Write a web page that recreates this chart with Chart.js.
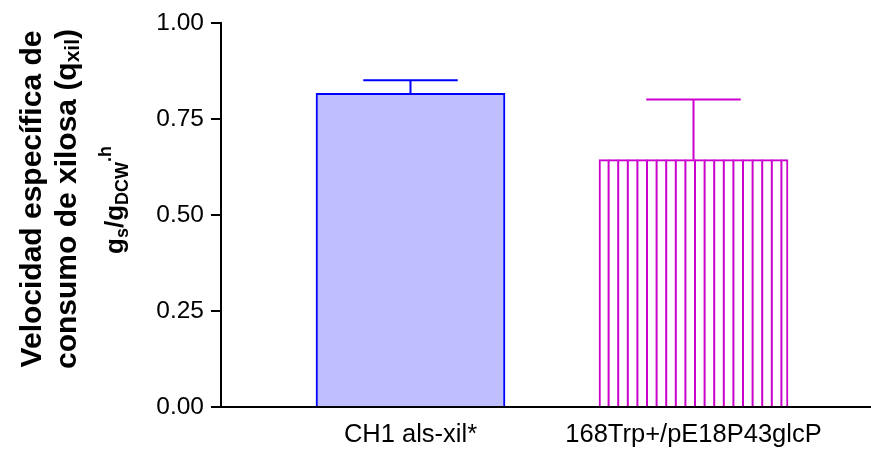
<!DOCTYPE html>
<html>
<head>
<meta charset="utf-8">
<script src="https://cdn.jsdelivr.net/npm/chart.js@4"></script>
<style>
html, body { margin: 0; padding: 0; background: #fff; }
#wrap { width: 871px; height: 450px; }
</style>
</head>
<body>
<div id="wrap"><canvas id="chart"></canvas></div>
<script>
const categories = ['CH1 als-xil*', '168Trp+/pE18P43glcP']
const means = [0.817, 0.644]
const errors = [0.034, 0.157]
const fillColors = ['#bfbfff', '#ffffff']
const lineColors = ['#0000ff', '#cc00cc']

const FONT = "'Liberation Sans', Arial, Helvetica, sans-serif"

// draws rotated text made of pieces: [text, size, shift] (shift > 0 = subscript)
function drawPieces(ctx, pieces, cx, cy, weight) {
    let total = 0
    pieces.forEach(p => {
        ctx.font = `${weight} ${p[1]}px ${FONT}`
        p.w = ctx.measureText(p[0]).width
        total += p.w
    })
    ctx.save()
    ctx.translate(cx, cy)
    ctx.rotate(-Math.PI / 2)
    let x = -total / 2
    ctx.textBaseline = 'alphabetic'
    ctx.textAlign = 'left'
    pieces.forEach(p => {
        ctx.font = `${weight} ${p[1]}px ${FONT}`
        ctx.fillText(p[0], x, p[2])
        x += p.w
    })
    ctx.restore()
}

const extras = {
    id: 'extras',
    afterDatasetsDraw(chart) {
        const ctx = chart.ctx
        const y = chart.scales.y
        const meta = chart.getDatasetMeta(0)
        // vertical hatching of second bar
        const el = meta.data[1]
        const left = el.x - el.width / 2
        const right = el.x + el.width / 2
        ctx.save()
        ctx.strokeStyle = lineColors[1]
        ctx.lineWidth = 2
        for (let sx = left + 9.6; sx < right - 3; sx += 9.6) {
            ctx.beginPath()
            ctx.moveTo(sx, el.y)
            ctx.lineTo(sx, el.base)
            ctx.stroke()
        }
        ctx.restore()

        // error bars (upper only)
        meta.data.forEach((bar, i) => {
            const top = y.getPixelForValue(means[i] + errors[i])
            const half = bar.width / 4
            ctx.save()
            ctx.strokeStyle = lineColors[i]
            ctx.lineWidth = 2
            ctx.beginPath()
            ctx.moveTo(bar.x, bar.y)
            ctx.lineTo(bar.x, top)
            ctx.moveTo(bar.x - half, top)
            ctx.lineTo(bar.x + half, top)
            ctx.stroke()
            ctx.restore()
        })
    },
    afterDraw(chart) {
        const ctx = chart.ctx
        ctx.save()
        ctx.fillStyle = '#000'
        drawPieces(ctx, [['Velocidad específica de', 30, 0]], 41, 199, 'bold')
        drawPieces(ctx, [['consumo de xilosa (q', 30, 0], ['xil', 21, 3], [')', 30, 0]], 76, 199, 'bold')
        drawPieces(ctx, [['g', 26, 0], ['s', 18, 5], ['/g', 26, 0], ['DCW', 18, 5], ['.h', 18, -12]], 123, 200, 'bold')
        ctx.restore()
    }
}

new Chart(document.getElementById('chart'), {
    type: 'bar',
    data: {
        datasets: [{
            data: categories.map((c, i) => ({ x: i + 1, y: means[i] })),
            backgroundColor: fillColors,
            borderColor: lineColors,
            borderWidth: 2,
            barThickness: 189
        }]
    },
    options: {
        responsive: true,
        maintainAspectRatio: false,
        animation: false,
        events: [],
        layout: { padding: { top: 23, right: 0, left: 0, bottom: 0 } },
        plugins: {
            legend: { display: false },
            tooltip: { enabled: false }
        },
        scales: {
            x: {
                type: 'linear',
                offset: false,
                min: 0.3304,
                max: 2.6272,
                afterBuildTicks: s => { s.ticks = categories.map((c, i) => ({ value: i + 1 })) },
                afterFit: s => { s.height = 43 },
                ticks: {
                    callback: v => categories[v - 1],
                    color: '#000',
                    padding: 13,
                    maxRotation: 0,
                    autoSkip: false,
                    font: { family: FONT, size: 25.5 }
                },
                grid: { display: false, drawTicks: false, offset: false },
                border: { display: true, color: '#000', width: 2 }
            },
            y: {
                min: 0,
                max: 1,
                afterFit: s => { s.width = 221 },
                ticks: {
                    stepSize: 0.25,
                    callback: v => v.toFixed(2),
                    color: '#000',
                    padding: 7,
                    font: { family: FONT, size: 24.5 }
                },
                grid: { drawOnChartArea: false, drawTicks: true, tickLength: 10, color: '#000', lineWidth: 2 },
                border: { display: true, color: '#000', width: 2 }
            }
        }
    },
    plugins: [extras]
})
</script>
</body>
</html>
